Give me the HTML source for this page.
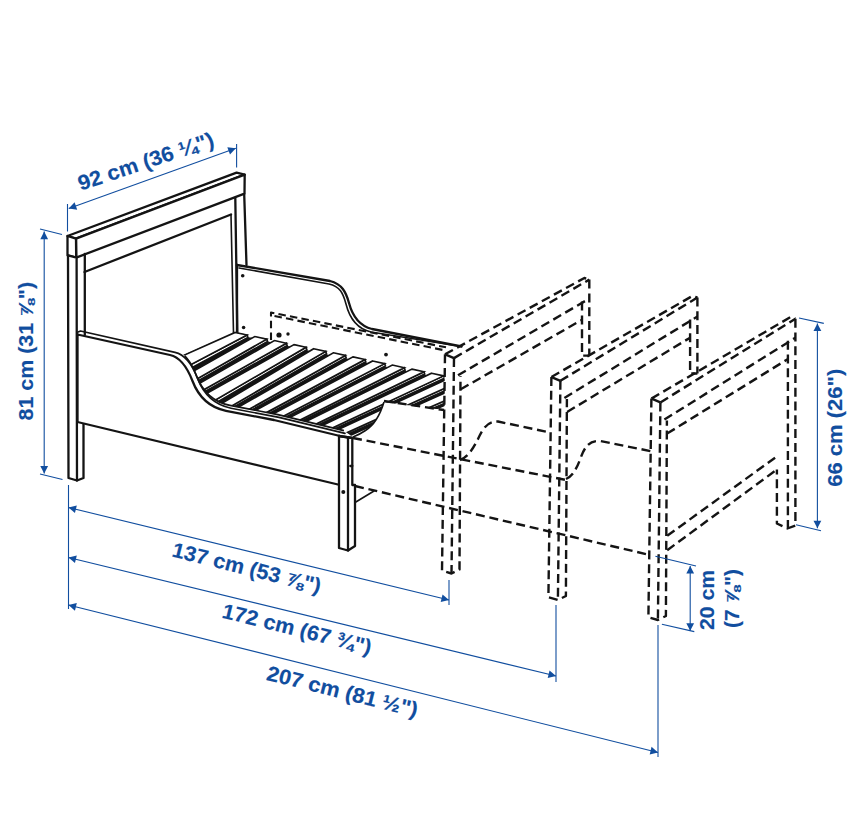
<!DOCTYPE html>
<html lang="en"><head><meta charset="utf-8"><title>Bed dimensions</title>
<style>
html,body{margin:0;padding:0;background:#fff;}
body{width:864px;height:822px;overflow:hidden;font-family:"Liberation Sans",sans-serif;}
svg{display:block}
.s{fill:none;stroke:#141414;stroke-width:2.3;stroke-linejoin:round;stroke-linecap:round}
.sf{fill:#fff;stroke:#141414;stroke-width:2.3;stroke-linejoin:round;stroke-linecap:round}
.t{fill:none;stroke:#141414;stroke-width:1.6;stroke-linejoin:round;stroke-linecap:round}
.sl{fill:#fff;stroke:#141414;stroke-width:1.6;stroke-linejoin:miter}
.h{fill:none;stroke:#141414;stroke-width:2.4;stroke-dasharray:9 4.8;stroke-linejoin:round}
.d{fill:none;stroke:#114e9f;stroke-width:1.1}
.a{fill:#114e9f;stroke:none}
.dot{fill:#141414}
.bk{fill:#141414;stroke:#141414;stroke-width:1.2}
text{font-family:"Liberation Sans",sans-serif;font-weight:bold;fill:#114e9f;stroke:#114e9f;stroke-width:0.15;stroke-linejoin:round}
</style></head><body>
<svg width="864" height="822" viewBox="0 0 864 822">
<rect width="864" height="822" fill="#fff"/>
<defs>
<clipPath id="slatclip">
<path d="M234,331 L444.5,374 L444.5,410 L384,402 C381,412 376,424 365.5,430.5 C361,433.5 357,435.5 353,437 L343.90,430.60 L277.90,414.60 L229.90,405.40 C212.30,401.80 202.10,390.50 196.40,375.60 C192.10,364.40 185.60,352.20 173.90,349.60 L185,353.5 Z"/>
</clipPath>
<clipPath id="slatclip2">
<path d="M186,352 L234,331 L446,374 L446,410 L384,401 C380,415 372,428 354,436 L340,436 L170,400 Z"/>
</clipPath>
</defs>

<path class="s" d="M237,265 L330,281 C342,284 346,292 349,303 C353,318 360,326 372,329 L461.5,346.5" />
<path class="t" d="M239,268 L329,284 C340,286.5 343,293 346,304 C350,320 358,329 371,332 L461.5,346.5" />
<line class="s" x1="237" y1="265" x2="237" y2="332"/>
<g clip-path="url(#slatclip)">
<polygon class="bk" points="247.20,337.73 251.72,338.20 179.02,379.41 178.10,375.02" />
<polygon class="sl" points="247.10,335.05 247.90,337.35 178.10,375.02 175.94,372.38" />
<polygon class="sl" points="235.10,332.40 247.10,335.05 175.94,372.38 170.75,361.00" />
<polygon class="bk" points="266.67,341.93 270.58,342.74 178.98,395.08 179.81,391.27" />
<polygon class="sl" points="266.75,339.13 267.55,341.43 179.81,391.27 179.05,389.09" />
<polygon class="sl" points="254.75,336.48 266.75,339.13 179.05,389.09 179.02,379.41" />
<polygon class="bk" points="286.15,346.10 289.55,347.15 181.53,407.51 181.82,404.38" />
<polygon class="sl" points="286.40,343.21 287.20,345.51 181.82,404.38 180.62,402.75" />
<polygon class="sl" points="274.40,340.56 286.40,343.21 180.62,402.75 178.98,395.08" />
<polygon class="bk" points="305.73,350.24 309.06,351.48 197.74,417.72 195.15,415.06" />
<polygon class="sl" points="306.05,347.29 306.85,349.59 195.15,415.06 191.64,413.81" />
<polygon class="sl" points="294.05,344.64 306.05,347.29 191.64,413.81 181.53,407.51" />
<polygon class="bk" points="325.34,354.34 328.55,355.55 213.29,421.51 210.85,420.19" />
<polygon class="sl" points="325.70,351.37 326.50,353.67 210.85,420.19 207.44,420.03" />
<polygon class="sl" points="313.70,348.72 325.70,351.37 207.44,420.03 197.74,417.72" />
<polygon class="bk" points="344.95,358.41 348.03,359.62 228.85,425.29 226.40,423.97" />
<polygon class="sl" points="345.35,355.45 346.15,357.75 226.40,423.97 222.99,423.81" />
<polygon class="sl" points="333.35,352.80 345.35,355.45 222.99,423.81 213.29,421.51" />
<polygon class="bk" points="364.56,362.49 367.52,363.68 244.41,429.07 241.96,427.75" />
<polygon class="sl" points="365.00,359.53 365.80,361.83 241.96,427.75 238.55,427.59" />
<polygon class="sl" points="353.00,356.88 365.00,359.53 238.55,427.59 228.85,425.29" />
<polygon class="bk" points="384.17,366.57 387.01,367.75 259.96,432.85 257.51,431.54" />
<polygon class="sl" points="384.65,363.61 385.45,365.91 257.51,431.54 254.10,431.38" />
<polygon class="sl" points="372.65,360.96 384.65,363.61 254.10,431.38 244.41,429.07" />
<polygon class="bk" points="403.78,370.64 406.49,371.82 275.51,436.63 273.07,435.32" />
<polygon class="sl" points="404.30,367.69 405.10,369.99 273.07,435.32 269.66,435.16" />
<polygon class="sl" points="392.30,365.04 404.30,367.69 269.66,435.16 259.96,432.85" />
<polygon class="bk" points="423.39,374.72 425.98,375.89 291.07,440.41 288.62,439.10" />
<polygon class="sl" points="423.95,371.77 424.75,374.07 288.62,439.10 285.21,438.94" />
<polygon class="sl" points="411.95,369.12 423.95,371.77 285.21,438.94 275.51,436.63" />
<polygon class="bk" points="443.00,378.80 445.46,379.96 306.62,444.19 304.18,442.88" />
<polygon class="sl" points="443.60,375.85 444.40,378.15 304.18,442.88 300.77,442.72" />
<polygon class="sl" points="431.60,373.20 443.60,375.85 300.77,442.72 291.07,440.41" />
<polygon class="bk" points="462.61,382.87 464.95,384.02 322.18,447.97 319.73,446.66" />
<polygon class="sl" points="463.25,379.93 464.05,382.23 319.73,446.66 316.32,446.50" />
<polygon class="sl" points="451.25,377.28 463.25,379.93 316.32,446.50 306.62,444.19" />
<polygon class="bk" points="482.22,386.95 484.44,388.09 337.74,451.75 335.29,450.44" />
<polygon class="sl" points="482.90,384.01 483.70,386.31 335.29,450.44 331.88,450.28" />
<polygon class="sl" points="470.90,381.36 482.90,384.01 331.88,450.28 322.18,447.97" />
<polygon class="bk" points="501.82,391.03 503.92,392.16 353.29,455.53 350.84,454.22" />
<polygon class="sl" points="502.55,388.09 503.35,390.39 350.84,454.22 347.43,454.06" />
<polygon class="sl" points="490.55,385.44 502.55,388.09 347.43,454.06 337.74,451.75" />
<polygon class="bk" points="521.43,395.11 523.41,396.23 368.85,459.32 366.40,458.00" />
<polygon class="sl" points="522.20,392.17 523.00,394.47 366.40,458.00 362.99,457.84" />
<polygon class="sl" points="510.20,389.52 522.20,392.17 362.99,457.84 353.29,455.53" />
</g>
<path class="sl" d="M173.90,349.60 C185.60,352.20 192.10,364.40 196.40,375.60 C202.10,390.50 212.30,401.80 229.90,405.40 L277.90,414.60 L343.90,430.60" style="fill:none" clip-path="url(#slatclip2)"/>
<path class="sl" d="M384,402 C381,412 376,424 365.5,430.5 C361,433.5 357,435.5 353,437" style="fill:none"/>
<path class="s" d="M84.5,272 L231,214.5" />
<path class="t" d="M231,214.5 L233.5,333" />
<polygon class="sf" points="67.50,236.00 236.60,172.60 244.70,174.60 76.00,238.60" />
<polygon class="sf" points="76.00,238.60 244.70,174.60 244.50,193.60 76.20,257.60" />
<polygon class="sf" points="67.50,236.00 76.00,238.60 76.20,257.60 67.50,255.30" />
<polygon class="sf" points="68.00,255.30 76.60,257.60 77.00,480.50 68.50,478.00" />
<path class="s" d="M84.8,254 L84.8,335" />
<path class="s" d="M235.3,198 L237.3,332" />
<path class="s" d="M244.2,194 L246.5,265" />
<path class="s" d="M77,480.5 L83.5,478 L83.5,424" />
<path class="sf" d="M77.5,334.5 L170.00,355.00 C181.70,357.60 188.20,369.80 192.50,381.00 C198.20,395.90 208.40,407.20 226.00,410.80 L274.00,420.00 L340.00,436.00 L340,485 L77.5,422 Z" />
<path class="t" d="M77.5,334.5 L77.5,332.3 L80.5,331 L175.00,352.40 C186.70,355.00 193.20,367.20 197.50,378.40 C203.20,393.30 213.40,404.60 231.00,408.20 L279.00,417.40 L345.00,433.40" />
<path class="sf" d="M339,436 L339,548 L348,550.5 L355,546 L355,485 L352.3,485 L352.3,438 Z" />
<line class="s" x1="348" y1="438" x2="348" y2="550.5"/>
<line class="s" x1="339" y1="436" x2="352.3" y2="438"/>
<path class="s" d="M350.3,466 L352.3,466" />
<circle class="dot" cx="343.3" cy="492" r="2.0"/>
<line class="t" x1="355" y1="502.5" x2="374" y2="491"/>
<circle class="dot" cx="242.7" cy="275.8" r="1.8"/>
<circle class="dot" cx="243.6" cy="327.5" r="1.8"/>
<circle class="dot" cx="279" cy="335" r="2.6"/>
<circle class="dot" cx="288" cy="334" r="1.7"/>
<circle class="dot" cx="386" cy="354.6" r="1.9"/>
<path class="h" d="M271,340 L271,312.5 L446,347.3" style="stroke-dasharray:7.5 4.2;stroke-width:2.1"/>
<path class="h" d="M274.5,316 L446,350.6" style="stroke-dasharray:7.5 4.2;stroke-width:2.1"/>
<path class="h" d="M384,401 L444,410" />
<path class="h" d="M353,438 L566,480" />
<path class="h" d="M355,486 L650,555" />
<path class="h" d="M460,460 C467,458 473,449 478,439 C483,428 488,421 498,421.5 L550,432.5" />
<path class="h" d="M566,479 C573,476 577,468 581,457 C585,446 590,440.5 600,441 L651,451.2 L651,455" />
<path class="h" d="M445,354.3 L442,570.7 L451.5,573.5 L459.5,569.5 L460.5,376.3" />
<path class="h" d="M454.0,358.1 L451.5,573.5" />
<path class="h" d="M454.0,358.1 L589.3,279.6" />
<path class="h" d="M445.0,354.3 L584.4,278.0 L589.3,279.6" />
<path class="h" d="M454.0,358.1 L445,354.3" />
<path class="h" d="M458,375.3 L589.3,298.6" />
<path class="h" d="M460.7,389.3 L582.0,319.8" />
<path class="h" d="M589.3,279.6 L589.3,355.6" />
<path class="h" d="M582.0,301.6 L582.0,355.6 L589.3,355.6" />
<path class="h" d="M551.4,377 L548.4,597.2 L557.9,600 L565.9,596 L566.9,399" />
<path class="h" d="M560.4,380.8 L557.9,600" />
<path class="h" d="M560.4,380.8 L697.4,297.5" />
<path class="h" d="M551.4,377.0 L692.5,295.9 L697.4,297.5" />
<path class="h" d="M560.4,380.8 L551.4,377" />
<path class="h" d="M564.4,398 L697.4,316.5" />
<path class="h" d="M567.1,412 L690.1,337.7" />
<path class="h" d="M697.4,297.5 L697.4,373.5" />
<path class="h" d="M690.1,319.5 L690.1,373.5 L697.4,373.5" />
<path class="h" d="M651.4,398.6 L648.4,617.2 L657.9,620 L665.9,616 L666.9,420.6" />
<path class="h" d="M660.4,402.40000000000003 L657.9,620" />
<path class="h" d="M660.4,402.4 L795.4,318.7" />
<path class="h" d="M651.4,398.6 L790.5,317.1 L795.4,318.7" />
<path class="h" d="M660.4,402.4 L651.4,398.6" />
<path class="h" d="M664.4,419.6 L795.4,337.7" />
<path class="h" d="M667.1,433.6 L788.1,358.9" />
<path class="h" d="M795.4,318.7 L795.4,525.5 L787.4,528.5 L776.9,523.5 L776.9,469.5" />
<path class="h" d="M787.9,340.7 L787.9,528.5" />
<path class="h" d="M667.2,535.8 L778.8,455" />
<path class="h" d="M667.2,550.2 L776.8,469.6" />
<line class="d" x1="67.5" y1="204" x2="67.5" y2="231.5"/>
<line class="d" x1="236.6" y1="144" x2="236.6" y2="167.5"/>
<line class="d" x1="68.75" y1="208.6" x2="235.8" y2="148.3"/>
<polygon class="a" points="235.80,148.30 229.98,154.55 227.33,147.21" />
<polygon class="a" points="68.75,208.60 74.57,202.35 77.22,209.69" />
<text transform="translate(148,168.3) rotate(-18.5)" x="-71.0" y="0" textLength="142" lengthAdjust="spacingAndGlyphs" font-size="21">92 cm (36 ¼")</text>
<line class="d" x1="40" y1="229" x2="62" y2="234.5"/>
<line class="d" x1="40" y1="474" x2="62.5" y2="479.5"/>
<line class="d" x1="44.2" y1="231.6" x2="44.2" y2="473.5"/>
<polygon class="a" points="44.20,473.50 40.30,465.90 48.10,465.90" />
<polygon class="a" points="44.20,231.60 48.10,239.20 40.30,239.20" />
<text transform="translate(32.8,351.2) rotate(-90)" x="-69.2" y="0" textLength="138.5" lengthAdjust="spacingAndGlyphs" font-size="21">81 cm (31 ⅞")</text>
<line class="d" x1="68.5" y1="485" x2="68.5" y2="609"/>
<line class="d" x1="449" y1="580" x2="449" y2="605"/>
<line class="d" x1="556" y1="605" x2="556" y2="682"/>
<line class="d" x1="658" y1="625" x2="658" y2="757"/>
<line class="d" x1="68.5" y1="507.5" x2="449" y2="600"/>
<polygon class="a" points="449.00,600.00 440.69,601.99 442.54,594.42" />
<polygon class="a" points="68.50,507.50 76.81,505.51 74.96,513.08" />
<line class="d" x1="68.5" y1="557.5" x2="556" y2="676"/>
<polygon class="a" points="556.00,676.00 547.69,677.99 549.54,670.42" />
<polygon class="a" points="68.50,557.50 76.81,555.51 74.96,563.08" />
<line class="d" x1="68.5" y1="605" x2="658" y2="752.5"/>
<polygon class="a" points="658.00,752.50 649.68,754.44 651.57,746.87" />
<polygon class="a" points="68.50,605.00 76.82,603.06 74.93,610.63" />
<text transform="translate(245,574.8) rotate(14)" x="-76.2" y="0" textLength="152.5" lengthAdjust="spacingAndGlyphs" font-size="21">137 cm (53 ⅞")</text>
<text transform="translate(295.3,635.9) rotate(14)" x="-76.5" y="0" textLength="153" lengthAdjust="spacingAndGlyphs" font-size="21">172 cm (67 ¾")</text>
<text transform="translate(340.7,698.4) rotate(14)" x="-77.5" y="0" textLength="155" lengthAdjust="spacingAndGlyphs" font-size="21">207 cm (81 ½")</text>
<line class="d" x1="655.4" y1="556.2" x2="696" y2="566"/>
<line class="d" x1="661.9" y1="624.3" x2="694.3" y2="631.6"/>
<line class="d" x1="690.2" y1="566" x2="690.2" y2="630.8"/>
<polygon class="a" points="690.20,630.80 686.30,623.20 694.10,623.20" />
<polygon class="a" points="690.20,566.00 694.10,573.60 686.30,573.60" />
<text transform="translate(713.8,600) rotate(-90)" x="-30.0" y="0" textLength="60" lengthAdjust="spacingAndGlyphs" font-size="21">20 cm</text>
<text transform="translate(738.9,598.6) rotate(-90)" x="-29.5" y="0" textLength="59" lengthAdjust="spacingAndGlyphs" font-size="21">(7 ⅞")</text>
<line class="d" x1="799" y1="318" x2="823.8" y2="323.4"/>
<line class="d" x1="796" y1="524.8" x2="821" y2="530.7"/>
<line class="d" x1="817.4" y1="323.4" x2="817.4" y2="528.3"/>
<polygon class="a" points="817.40,528.30 813.50,520.70 821.30,520.70" />
<polygon class="a" points="817.40,323.40 821.30,331.00 813.50,331.00" />
<text transform="translate(842.2,427.7) rotate(-90)" x="-59.0" y="0" textLength="118" lengthAdjust="spacingAndGlyphs" font-size="21">66 cm (26")</text>
</svg></body></html>
